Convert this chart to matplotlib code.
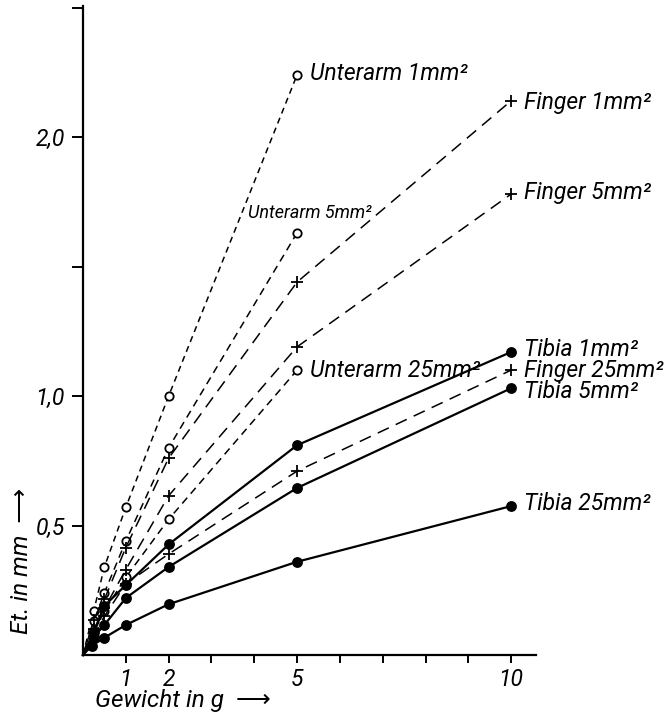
import matplotlib
matplotlib.use("Agg")
import matplotlib.pyplot as plt

plt.rcParams['font.family'] = ['Liberation Sans Narrow', 'Roboto', 'DejaVu Sans']
plt.rcParams['font.style'] = 'italic'

# Gewicht in g (0 = origin, lines start there)
x_unt1 = [0, 0.25, 0.5, 1, 2, 5]
y_unt1 = [0, 0.17, 0.34, 0.57, 1.0, 2.24]
x_unt5 = [0, 0.25, 0.5, 1, 2, 5]
y_unt5 = [0, 0.13, 0.24, 0.44, 0.80, 1.63]
x_unt25 = [0, 0.5, 1, 2, 5]
y_unt25 = [0, 0.17, 0.30, 0.524, 1.10]

x_fin1 = [0, 0.25, 0.5, 1, 2, 5, 10]
y_fin1 = [0, 0.135, 0.215, 0.415, 0.76, 1.44, 2.14]
x_fin5 = [0, 0.25, 0.5, 1, 2, 5, 10]
y_fin5 = [0, 0.10, 0.18, 0.33, 0.615, 1.19, 1.78]
x_fin25 = [0, 0.5, 1, 2, 5, 10]
y_fin25 = [0, 0.15, 0.275, 0.39, 0.71, 1.10]

x_tib1 = [0, 0.25, 0.5, 1, 2, 5, 10]
y_tib1 = [0, 0.09, 0.19, 0.27, 0.427, 0.81, 1.17]
x_tib5 = [0, 0.25, 0.5, 1, 2, 5, 10]
y_tib5 = [0, 0.07, 0.116, 0.22, 0.34, 0.645, 1.03]
x_tib25 = [0, 0.2, 0.5, 1, 2, 5, 10]
y_tib25 = [0, 0.035, 0.067, 0.116, 0.196, 0.36, 0.575]

x_ticks = [1, 2, 5, 10]
x_minor = [3, 4, 6, 7, 8, 9]
y_ticks = [0.5, 1.0, 2.0]
y_ticklabels = ['0,5', '1,0', '2,0']
y_minor = [1.5, 2.5]

fig = plt.figure(figsize=(6.69, 7.15), dpi=100)
ax = fig.add_axes([83 / 669, 60 / 715, 453 / 669, 649 / 715])

short = (0, (4, 3))
medium = (0, (5, 3.5))
long_ = (0, (8, 5))

def curve(x, y, ls, mk, ms, fill, lw):
    ax.plot(x, y, color='black', linestyle=ls, linewidth=lw, marker=mk,
            markersize=ms, markerfacecolor=fill, markeredgecolor='black',
            markeredgewidth=1.3, markevery=list(range(1, len(x))), clip_on=False)

curve(x_unt1, y_unt1, short, 'o', 6, 'white', 1.1)
curve(x_unt5, y_unt5, medium, 'o', 6, 'white', 1.1)
curve(x_unt25, y_unt25, medium, 'o', 6, 'white', 1.1)
curve(x_fin1, y_fin1, long_, '+', 8, 'black', 1.1)
curve(x_fin5, y_fin5, long_, '+', 8, 'black', 1.1)
curve(x_fin25, y_fin25, long_, '+', 8, 'black', 1.1)
curve(x_tib1, y_tib1, '-', 'o', 6.5, 'black', 1.6)
curve(x_tib5, y_tib5, '-', 'o', 6.5, 'black', 1.6)
curve(x_tib25, y_tib25, '-', 'o', 6.5, 'black', 1.6)

fs = 16.5
ax.text(5.3, 2.245, 'Unterarm 1mm²', fontsize=fs, va='center')
ax.text(10.3, 2.135, 'Finger 1mm²', fontsize=fs, va='center')
ax.text(10.3, 1.785, 'Finger 5mm²', fontsize=fs, va='center')
ax.text(3.85, 1.705, 'Unterarm 5mm²', fontsize=13, va='center')
ax.text(5.3, 1.10, 'Unterarm 25mm²', fontsize=fs, va='center')
ax.text(10.3, 1.18, 'Tibia 1mm²', fontsize=fs, va='center')
ax.text(10.3, 1.10, 'Finger 25mm²', fontsize=fs, va='center')
ax.text(10.3, 1.018, 'Tibia 5mm²', fontsize=fs, va='center')
ax.text(10.3, 0.585, 'Tibia 25mm²', fontsize=fs, va='center')

ax.set_xlim(0, 10.58)
ax.set_ylim(0, 2.506)
for s in ['top', 'right']:
    ax.spines[s].set_visible(False)
for s in ['left', 'bottom']:
    ax.spines[s].set_linewidth(1.6)

ax.set_xticks(x_ticks)
ax.set_xticklabels([str(v) for v in x_ticks], fontsize=16.5)
ax.set_xticks(x_minor, minor=True)
ax.set_yticks(y_ticks)
ax.set_yticklabels(y_ticklabels, fontsize=16.5)
ax.set_yticks(y_minor, minor=True)
ax.tick_params(axis='both', which='both', direction='out', width=1.4, color='black')
ax.tick_params(axis='x', which='both', length=6, pad=3)
ax.tick_params(axis='y', which='both', length=8, pad=5)

fig.text(95 / 669, 1 - 700 / 715, 'Gewicht in g  \u27f6', fontsize=17.5, va='center', ha='left')
fig.text(22 / 669, 1 - 561 / 715, 'Et. in mm  \u27f6', fontsize=17.5, va='center', ha='center',
         rotation=90)

fig.savefig('out.png', dpi=100)
